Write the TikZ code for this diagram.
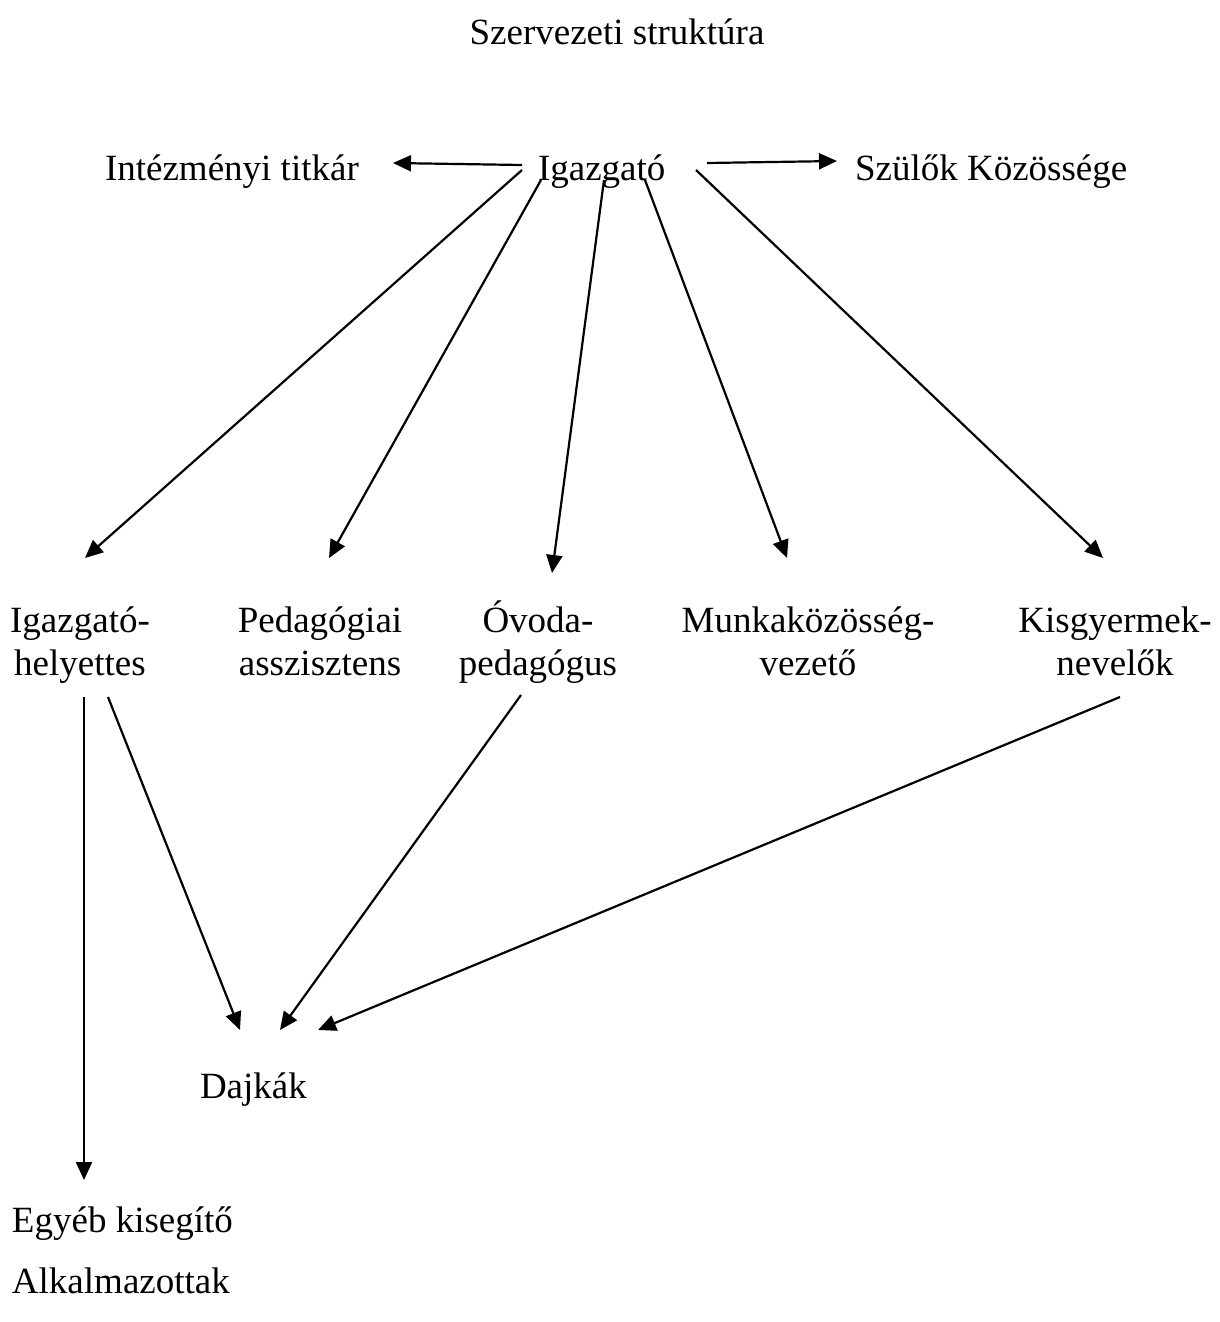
\documentclass[tikz,border=0pt]{standalone}
\usepackage{fontspec}
\setmainfont{Liberation Serif}
\usetikzlibrary{arrows.meta}
\begin{document}
\begin{tikzpicture}[x=1pt,y=-1pt,
  lbl/.style={inner sep=0pt,outer sep=0pt,anchor=base,align=center,font=\fontsize{37}{42.5}\selectfont},
  lblw/.style={inner sep=0pt,outer sep=0pt,anchor=base west,font=\fontsize{37}{42.5}\selectfont},
  conn/.style={line width=2.2pt,-{Triangle[length=18pt,width=16pt]}}]
\useasboundingbox (0,0) rectangle (1220,1322);
% labels
\node[lbl] (title) at (617,45) {Szervezeti struktúra};
\node[lblw] (titkar) at (105,180) {Intézményi titkár};
\node[lblw] (igazgato) at (538,180) {Igazgató};
\node[lblw] (szulok) at (855,180) {Szülők Közössége};
\node[lbl] (helyettes) at (80,675) {Igazgató-\\helyettes};
\node[lbl] (asszisztens) at (320,675) {Pedagógiai\\asszisztens};
\node[lbl] (ovoda) at (538,675) {Óvoda-\\pedagógus};
\node[lbl] (munka) at (808,675) {Munkaközösség-\\vezető};
\node[lbl] (kisgy) at (1115,675) {Kisgyermek-\\nevelők};
\node[lblw] (dajkak) at (200,1098) {Dajkák};
\node[lblw] (egyeb) at (12,1232) {Egyéb kisegítő};
\node[lblw] (alkalm) at (12,1293) {Alkalmazottak};
% connector end points
\coordinate (igW) at (522,165);
\coordinate (titE) at (393,163);
\coordinate (igE) at (707,163);
\coordinate (szW) at (837,161);
\coordinate (ig1) at (522,170);
\coordinate (ig2) at (541,180);
\coordinate (ig3) at (604,180);
\coordinate (ig4) at (645,180);
\coordinate (ig5) at (696,170);
\coordinate (helN) at (85,558);
\coordinate (assN) at (329,558);
\coordinate (ovN) at (552,573);
\coordinate (munN) at (787,558);
\coordinate (kisN) at (1103,558);
\coordinate (helS1) at (84,697);
\coordinate (helS2) at (108,697);
\coordinate (ovS) at (521,695);
\coordinate (kisS) at (1120,697);
\coordinate (egyN) at (84,1180);
\coordinate (dajN1) at (240,1030);
\coordinate (dajN2) at (280,1030);
\coordinate (dajN3) at (318,1030);
% connectors
\draw[conn] (igW) -- (titE);
\draw[conn] (igE) -- (szW);
\draw[conn] (ig1) -- (helN);
\draw[conn] (ig2) -- (assN);
\draw[conn] (ig3) -- (ovN);
\draw[conn] (ig4) -- (munN);
\draw[conn] (ig5) -- (kisN);
\draw[conn] (helS1) -- (egyN);
\draw[conn] (helS2) -- (dajN1);
\draw[conn] (ovS) -- (dajN2);
\draw[conn] (kisS) -- (dajN3);
\end{tikzpicture}
\end{document}
